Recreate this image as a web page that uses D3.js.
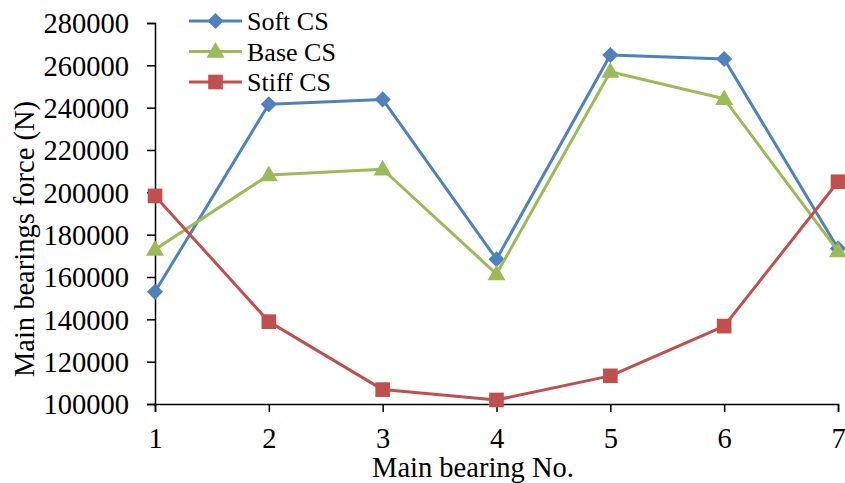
<!DOCTYPE html>
<html><head><meta charset="utf-8">
<script src="https://cdn.jsdelivr.net/npm/d3@7"></script>
<style>body{margin:0;background:#fff}svg{display:block}</style>
</head><body><svg id="c" width="845" height="483" style="font-family:'Liberation Serif','Times New Roman',serif"></svg>
<script>
const categories = [1, 2, 3, 4, 5, 6, 7];
const softCS  = [153000, 241600, 243900, 168400, 264900, 263000, 173500];
const baseCS  = [173000, 208200, 210900, 161400, 257000, 244200, 172200];
const stiffCS = [198300, 138900, 106800, 101900, 113300, 136800, 205000];
const yTicks = [100000, 120000, 140000, 160000, 180000, 200000, 220000, 240000, 260000, 280000];
const seriesNames = ["Soft CS", "Base CS", "Stiff CS"];
const colors = ["#4F81BD", "#9BBB59", "#C0504D"];
const markers = [d3.symbolSquare, d3.symbolTriangle, d3.symbolSquare];
const rot = [45, 0, 0];
const sizes = [130, 140, 215];
const FONT = "'Liberation Serif','Times New Roman',serif";

const svg = d3.select("#c");
const x = d3.scaleLinear().domain([1, 7]).range([155, 838]);
const y = d3.scaleLinear().domain([100000, 280000]).range([404, 23]);

// axes
const yAxis = d3.axisLeft(y).tickValues(yTicks).tickSize(8).tickPadding(18).tickFormat(d3.format("d"));
const gy = svg.append("g").attr("transform", "translate(155,0)").call(yAxis)
  .style("font-family", FONT).style("font-size", "28.5px");
gy.select(".domain").attr("stroke", "#000").attr("stroke-width", 1.5);
gy.selectAll(".tick line").attr("stroke", "#000").attr("stroke-width", 1.5);
gy.selectAll(".tick text").attr("dy", "0.35em").attr("fill", "#000");

const xAxis = d3.axisBottom(x).tickValues(categories).tickSize(8).tickPadding(16).tickFormat(d3.format("d"));
const gx = svg.append("g").attr("transform", "translate(0,404)").call(xAxis)
  .style("font-family", FONT).style("font-size", "28.5px");
gx.select(".domain").attr("stroke", "#000").attr("stroke-width", 1.5);
gx.selectAll(".tick line").attr("stroke", "#000").attr("stroke-width", 1.5);
gx.selectAll(".tick text").attr("fill", "#000");

svg.append("text").attr("x", 473).attr("y", 477).attr("text-anchor", "middle")
  .style("font-family", FONT).style("font-size", "28.5px").text("Main bearing No.");
svg.append("text").attr("transform", "translate(34,239) rotate(-90)").attr("text-anchor", "middle")
  .style("font-family", FONT).style("font-size", "28.5px").text("Main bearings force (N)");

const data = [softCS, baseCS, stiffCS];
const line = d3.line().x((d, i) => x(categories[i])).y(d => y(d));
data.forEach((vals, k) => {
  const g = svg.append("g");
  g.append("path").datum(vals).attr("d", line).attr("fill", "none")
    .attr("stroke", colors[k]).attr("stroke-width", 3).attr("stroke-linejoin", "round");
  g.selectAll("path.m").data(vals).enter().append("path").attr("class", "m")
    .attr("transform", (d, i) => `translate(${x(categories[i])},${y(d) + (k === 1 ? 1 : 0)}) rotate(${rot[k]})`)
    .attr("d", d3.symbol().type(markers[k]).size(sizes[k]))
    .attr("fill", colors[k]);
});

// legend
const legY = [21, 51.5, 82];
seriesNames.forEach((n, k) => {
  const g = svg.append("g");
  g.append("line").attr("x1", 189).attr("x2", 242).attr("y1", legY[k]).attr("y2", legY[k])
    .attr("stroke", colors[k]).attr("stroke-width", 3);
  g.append("path").attr("transform", `translate(215.5,${legY[k] + (k === 1 ? 1 : 0)}) rotate(${rot[k]})`)
    .attr("d", d3.symbol().type(markers[k]).size(sizes[k])).attr("fill", colors[k]);
  g.append("text").attr("x", 247).attr("y", legY[k]).attr("dy", "0.35em")
    .style("font-family", FONT).style("font-size", "26px").text(n);
});
</script></body></html>
